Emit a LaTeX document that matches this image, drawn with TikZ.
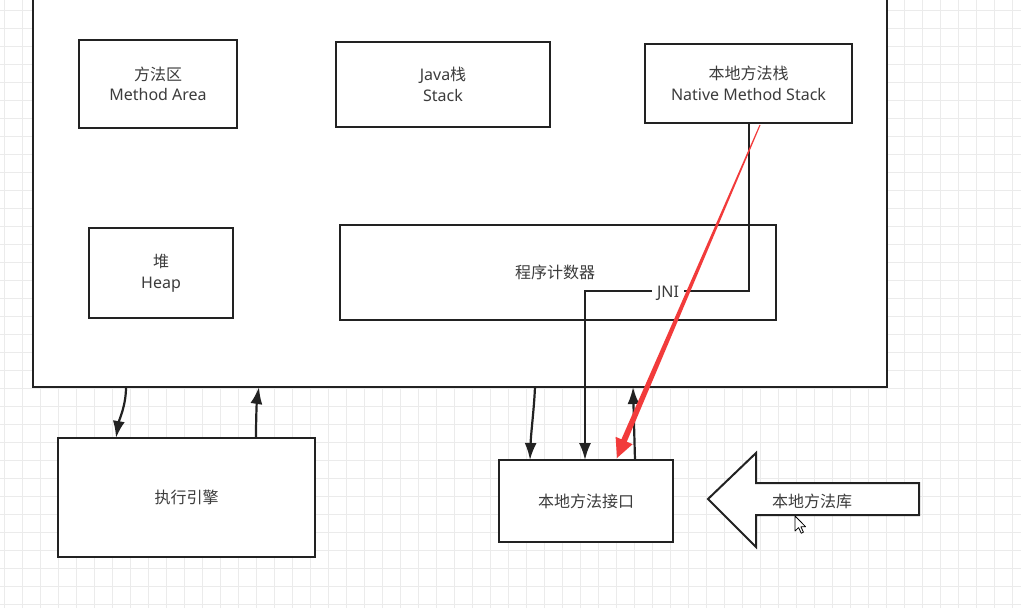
\documentclass[tikz,border=0pt]{standalone}
\usepackage{fontspec}
\setmainfont{Noto Sans}
\newfontfamily\cjk{Noto Sans CJK SC}
\usetikzlibrary{arrows.meta}
\definecolor{ink}{HTML}{222222}
\definecolor{txt}{HTML}{3C3C3C}
\definecolor{gridc}{HTML}{EBEBEB}
\definecolor{redmark}{HTML}{F23B3B}
\begin{document}
\begin{tikzpicture}[x=1pt,y=-1pt,
  box/.style={draw=ink,line width=2pt,fill=white,inner sep=0pt,outer sep=0pt,
    align=center,text=txt,font=\fontsize{16}{20.5}\selectfont},
  arr/.style={draw=ink,line width=2.2pt,-{Latex[length=17pt,width=12pt]}},
  gridline/.style={draw=gridc,line width=1pt},
  plaintext/.style={text=txt,font=\fontsize{16}{20}\selectfont}]

% canvas
\useasboundingbox (0,0) rectangle (1021,608);
\fill[white] (0,0) rectangle (1021,608);
\foreach \x in {4,22,...,1020} \draw[gridline] (\x,0) -- (\x,608);
\foreach \y in {10,28,...,607} \draw[gridline] (0,\y) -- (1021,\y);

% runtime data area
\node[box,minimum width=854pt,minimum height=393pt] (outer) at (460,190.5) {};

\node[box,minimum width=158pt,minimum height=88pt] (ma) at (158,84)
  {{\cjk 方法区}\\Method Area};
\node[box,minimum width=214pt,minimum height=85pt] (js) at (443,84.5)
  {Java{\cjk 栈}\\Stack};
\node[box,minimum width=207pt,minimum height=79pt] (nms) at (748.5,83.5)
  {{\cjk 本地方法栈}\\Native Method Stack};
\node[box,minimum width=144pt,minimum height=90pt] (heap) at (161,273)
  {{\cjk 堆}\\Heap};
\node[box,minimum width=436pt,minimum height=95pt] (pc) at (558,272.5) {};
\node[plaintext] (pct) at (555,272) {\cjk 程序计数器};

% execution engine and native interface
\node[box,minimum width=257pt,minimum height=119pt] (ee) at (186.5,497.5)
  {\cjk 执行引擎};
\node[box,minimum width=174pt,minimum height=82pt] (nif) at (586,501)
  {\cjk 本地方法接口};

% native library (block arrow)
\draw[draw=ink,line width=2pt,fill=white,line join=miter]
  (708,499) -- (756,453) -- (756,483) -- (919,483) -- (919,515)
  -- (756,515) -- (756,547) -- cycle;
\node[plaintext] (lib) at (812,501) {\cjk 本地方法库};

% engine <-> data area
\draw[arr] (outer.south -| 126,0) .. controls (126,406) and (119,420) .. (ee.north -| 116,0);
\draw[arr] (ee.north -| 256,0) .. controls (256,414) and (257,400) .. (outer.south -| 259,0);

% native interface <-> data area
\draw[arr] (outer.south -| 535,0) .. controls (534,410) and (531,432) .. (nif.north -| 530,0);
\draw[arr] (nif.north -| 635,0) -- (outer.south -| 633,0);

% JNI link from the native method stack
\draw[arr,line width=2pt,line join=miter] (nms.south) -- (nms.south |- 0,291) -- (585,291)
  -- (nif.north -| 585,0);
\node[plaintext,fill=white,inner xsep=5pt,inner ysep=1pt] (jni) at (668,293) {JNI};

% red hand-drawn marker
\coordinate (rs) at (760,125);
\coordinate (rt) at (617,458);
\fill[redmark] (760.5,125.2) -- (626.8,441.7) -- (632.6,444.2) -- (rt)
  -- (615.6,436.8) -- (621.4,439.3) -- (759.5,124.8) -- cycle;

% mouse pointer
\draw[black,line width=0.8pt,fill=white,line join=round]
  (795,516) -- (795,531) -- (798.6,527.6) -- (801.2,533.2) -- (803.4,532.2)
  -- (800.9,526.7) -- (805.6,526.7) -- cycle;
\end{tikzpicture}
\end{document}
